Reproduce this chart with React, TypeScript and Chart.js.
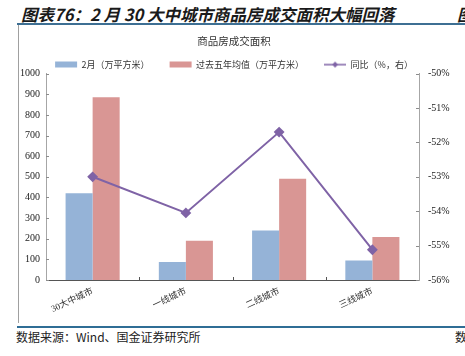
import React, { useEffect, useRef } from "react";
import { Chart, registerables } from "chart.js";

Chart.register(...registerables);

const categories = ["30大中城市", "一线城市", "二线城市", "三线城市"];
const febArea = [420, 87, 240, 95];
const fiveYearAvg = [885, 190, 491, 208];
const yoyPct = [-53.0, -54.05, -51.7, -55.12];
const seriesNames = ["2月（万平方米）", "过去五年均值（万平方米）", "同比（%，右）"];
const chartTitle = "商品房成交面积";
const pageTitle = "图表76：2 月 30 大中城市商品房成交面积大幅回落";
const sourceText = "数据来源：Wind、国金证券研究所";

const BLUE = "#95B3D7";
const RED = "#D99694";
const PURPLE = "#7F63A6";
const CJK = '"Noto Sans CJK SC", sans-serif';
const SERIF = '"Liberation Serif", "Noto Sans CJK SC", serif';

const innerTicks = {
  id: "innerTicks",
  afterDraw(chart: any) {
    const ctx = chart.ctx;
    const { left, right, bottom } = chart.chartArea;
    const y = chart.scales.y;
    const y1 = chart.scales.y1;
    const x = chart.scales.x;
    ctx.save();
    ctx.lineWidth = 1;
    ctx.strokeStyle = "#8c8c8c";
    y.ticks.forEach((t: any) => {
      const py = Math.round(y.getPixelForValue(t.value)) + 0.5;
      ctx.beginPath();
      ctx.moveTo(left, py);
      ctx.lineTo(left + 3, py);
      ctx.stroke();
    });
    y1.ticks.forEach((t: any) => {
      const py = Math.round(y1.getPixelForValue(t.value)) + 0.5;
      ctx.beginPath();
      ctx.moveTo(right - 3, py);
      ctx.lineTo(right, py);
      ctx.stroke();
    });
    ctx.strokeStyle = "#555";
    for (let i = 1; i < categories.length; i++) {
      const px = Math.round((x.getPixelForValue(i - 1) + x.getPixelForValue(i)) / 2) + 0.5;
      ctx.beginPath();
      ctx.moveTo(px, bottom);
      ctx.lineTo(px, bottom - 3);
      ctx.stroke();
    }
    ctx.restore();
  },
};

export default function App() {
  const ref = useRef<HTMLCanvasElement>(null);
  useEffect(() => {
    const lineImg = document.createElement("canvas");
    lineImg.width = 22;
    lineImg.height = 8;
    const lc = lineImg.getContext("2d")!;
    lc.strokeStyle = PURPLE;
    lc.lineWidth = 1.5;
    lc.beginPath();
    lc.moveTo(0, 4);
    lc.lineTo(22, 4);
    lc.stroke();
    lc.fillStyle = PURPLE;
    lc.beginPath();
    lc.moveTo(11, 1);
    lc.lineTo(14, 4);
    lc.lineTo(11, 7);
    lc.lineTo(8, 4);
    lc.closePath();
    lc.fill();

    const chart = new Chart(ref.current!, {
      type: "bar",
      data: {
        labels: categories,
        datasets: [
          {
            type: "bar",
            label: seriesNames[0],
            data: febArea,
            backgroundColor: BLUE,
            borderWidth: 0,
            yAxisID: "y",
            order: 1,
            categoryPercentage: 0.58,
            barPercentage: 1.0,
          },
          {
            type: "bar",
            label: seriesNames[1],
            data: fiveYearAvg,
            backgroundColor: RED,
            borderWidth: 0,
            yAxisID: "y",
            order: 1,
            categoryPercentage: 0.58,
            barPercentage: 1.0,
          },
          {
            type: "line",
            label: seriesNames[2],
            data: yoyPct,
            borderColor: PURPLE,
            backgroundColor: PURPLE,
            borderWidth: 2,
            pointStyle: "rectRot",
            pointRadius: 4,
            pointBackgroundColor: PURPLE,
            pointBorderColor: PURPLE,
            yAxisID: "y1",
            order: 0,
          } as any,
        ],
      },
      options: {
        responsive: false,
        animation: false,
        layout: { padding: 0 },
        plugins: {
          title: {
            display: true,
            text: chartTitle,
            color: "#333",
            font: { family: CJK, size: 10.5, weight: "normal" as any },
            padding: { top: 8, bottom: -7.5 } as any,
          },
          legend: {
            display: true,
            maxHeight: 33.5,
            labels: {
              usePointStyle: true,
              pointStyleWidth: 22,
              boxWidth: 22,
              boxHeight: 6,
              padding: 20,
              color: "#333",
              font: { family: CJK, size: 9 },
              sort: (a: any, b: any) => a.datasetIndex - b.datasetIndex,
              generateLabels: (c: any) => {
                const items = (Chart.defaults.plugins.legend.labels as any).generateLabels(c);
                return items.map((it: any) =>
                  it.datasetIndex === 2
                    ? { ...it, pointStyle: lineImg, lineWidth: 0 }
                    : { ...it, pointStyle: "rect", lineWidth: 0 }
                );
              },
            },
          } as any,
          tooltip: { enabled: false },
        },
        scales: {
          x: {
            grid: { display: false, drawTicks: false },
            border: { display: true, color: "#555", width: 1 },
            ticks: {
              autoSkip: false,
              maxRotation: 25,
              minRotation: 25,
              padding: 6,
              color: "#333",
              font: { family: SERIF, size: 9 },
            },
            afterFit: (s: any) => {
              s.height = 43;
            },
          },
          y: {
            position: "left",
            min: 0,
            max: 1000,
            grid: { display: false, drawTicks: false },
            border: { display: true, color: "#a6a6a6", width: 1 },
            ticks: {
              stepSize: 100,
              padding: 6,
              color: "#222",
              font: { family: SERIF, size: 10 },
              callback: (v: any) => String(v),
            },
            afterFit: (s: any) => {
              s.width = 48;
            },
          },
          y1: {
            position: "right",
            min: -56,
            max: -50,
            grid: { display: false, drawTicks: false },
            border: { display: true, color: "#a6a6a6", width: 1 },
            ticks: {
              stepSize: 1,
              padding: 9,
              color: "#222",
              font: { family: SERIF, size: 10 },
              callback: (v: any) => `${v}%`,
            },
            afterFit: (s: any) => {
              s.width = 51;
            },
          },
        },
      } as any,
      plugins: [innerTicks],
    });
    return () => chart.destroy();
  }, []);

  return (
    <div
      style={{
        position: "absolute",
        top: 0,
        left: 0,
        width: 465,
        height: 356,
        overflow: "hidden",
        background: "#fff",
      }}
    >
      <div
        style={{
          position: "absolute",
          left: 21,
          top: 3,
          fontFamily: CJK,
          fontSize: 16.5,
          fontWeight: "bold",
          fontStyle: "italic",
          color: "#1a1a1a",
          whiteSpace: "nowrap",
          lineHeight: "22px",
        }}
      >
        {pageTitle}
      </div>
      <div
        style={{
          position: "absolute",
          left: 457,
          top: 3,
          fontFamily: CJK,
          fontSize: 16.5,
          fontWeight: "bold",
          fontStyle: "italic",
          color: "#1a1a1a",
          lineHeight: "22px",
        }}
      >
        图
      </div>
      <div style={{ position: "absolute", left: 17, top: 23, width: 448, height: 2, background: "#3D6F93" }} />
      <div style={{ position: "absolute", left: 18, top: 25, width: 1, height: 298, background: "#a0a0a0" }} />
      <canvas
        ref={ref}
        width={472}
        height={296}
        style={{ position: "absolute", left: -2, top: 27, width: 472, height: 296 }}
      />
      <div style={{ position: "absolute", left: 17, top: 326, width: 448, height: 2, background: "#2F6D95" }} />
      <div
        style={{
          position: "absolute",
          left: 16,
          top: 329,
          fontFamily: CJK,
          fontSize: 12,
          color: "#222",
          whiteSpace: "nowrap",
          lineHeight: "16px",
        }}
      >
        {sourceText}
      </div>
      <div
        style={{
          position: "absolute",
          left: 455,
          top: 329,
          fontFamily: CJK,
          fontSize: 12,
          color: "#222",
          lineHeight: "16px",
        }}
      >
        数
      </div>
    </div>
  );
}
